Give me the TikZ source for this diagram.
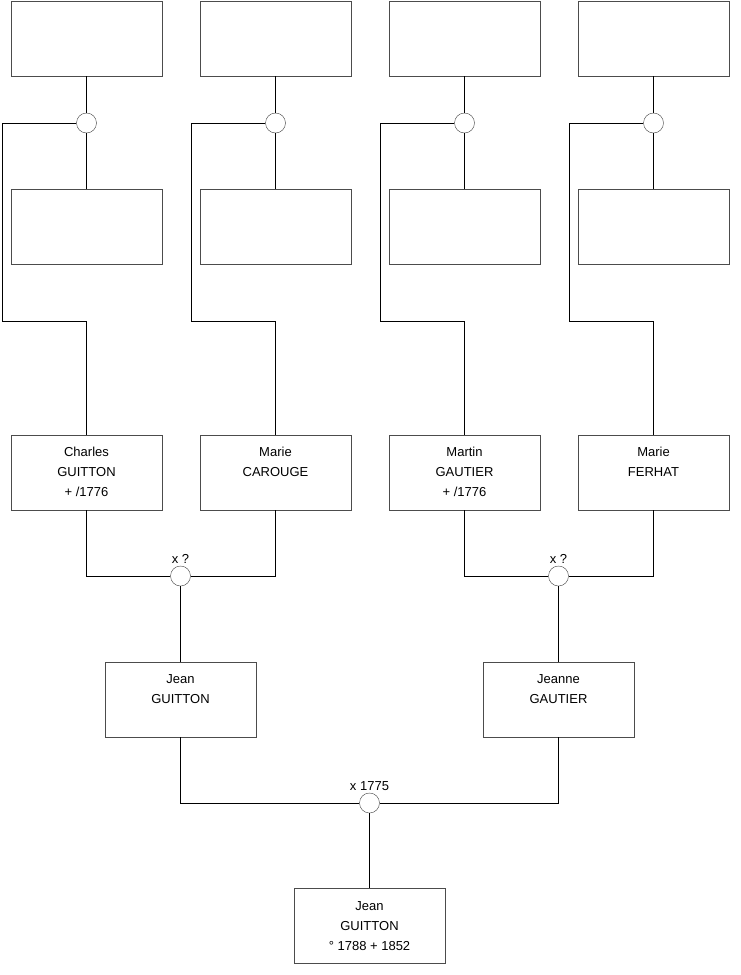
\documentclass[tikz,border=0pt]{standalone}
\usepackage{fontspec}
\setmainfont{Liberation Sans}
\usetikzlibrary{positioning}

% texte d'une fiche, aligne sur la premiere ligne
\newcommand{\fiche}[1]{\begin{tabular}[t]{@{}c@{}}#1\end{tabular}}

\begin{document}
\begin{tikzpicture}[
        x=1pt, y=-1pt,
        box/.style={rectangle, draw=black!70, fill=white, minimum width=151pt, minimum height=75pt, inner sep=0pt, text height=21.5pt, text depth=53.5pt, font=\fontsize{13}{20}\selectfont},
        union/.style={circle, draw=black!75, fill=white, minimum size=20pt, inner sep=0pt},
        lbl/.style={font=\fontsize{13}{15}\selectfont, inner sep=2pt},
        link/.style={black, line width=0.8pt}
    ]
    \useasboundingbox (0,0) rectangle (740,975);

    % grands-parents (cases vides)
    \foreach \i/\x in {1/86.5, 2/275.5, 3/464.5, 4/653.5} {
        \node[box] (haut\i) at (\x,38.5) {};
        \node[union] (uh\i) at (\x,123) {};
        \node[box] (mil\i) at (\x,227) {};
        \coordinate (c\i) at (\x-84.5,321);
    }

    % parents
    \node[box] (p1) at (86.5,472.5) {\fiche{Charles\\GUITTON\\+ /1776}};
    \node[box] (p2) at (275.5,472.5) {\fiche{Marie\\CAROUGE}};
    \node[box] (p3) at (464.5,472.5) {\fiche{Martin\\GAUTIER\\+ /1776}};
    \node[box] (p4) at (653.5,472.5) {\fiche{Marie\\FERHAT}};

    % unions
    \node[union, label={[lbl]above:x ?}] (u12) at (180.5,576) {};
    \node[union, label={[lbl]above:x ?}] (u34) at (558.5,576) {};
    \node[box] (jean) at (180.5,699.5) {\fiche{Jean\\GUITTON}};
    \node[box] (jeanne) at (558.5,699.5) {\fiche{Jeanne\\GAUTIER}};
    \node[union, label={[lbl]above:x 1775}] (ubas) at (369.5,803) {};
    \node[box] (moi) at (369.5,926) {\fiche{Jean\\GUITTON\\° 1788 + 1852}};

    % liens
    \foreach \i in {1,...,4} {
        \draw[link] (haut\i.south) -- (uh\i.north);
        \draw[link] (uh\i.south) -- (mil\i.north);
        \draw[link] (uh\i.west) -| (c\i) -| (p\i.north);
    }
    \draw[link] (p1.south) |- (u12.west);
    \draw[link] (p2.south) |- (u12.east);
    \draw[link] (u12.south) -- (jean.north);
    \draw[link] (p3.south) |- (u34.west);
    \draw[link] (p4.south) |- (u34.east);
    \draw[link] (u34.south) -- (jeanne.north);
    \draw[link] (jean.south) |- (ubas.west);
    \draw[link] (jeanne.south) |- (ubas.east);
    \draw[link] (ubas.south) -- (moi.north);

\end{tikzpicture}
\end{document}
